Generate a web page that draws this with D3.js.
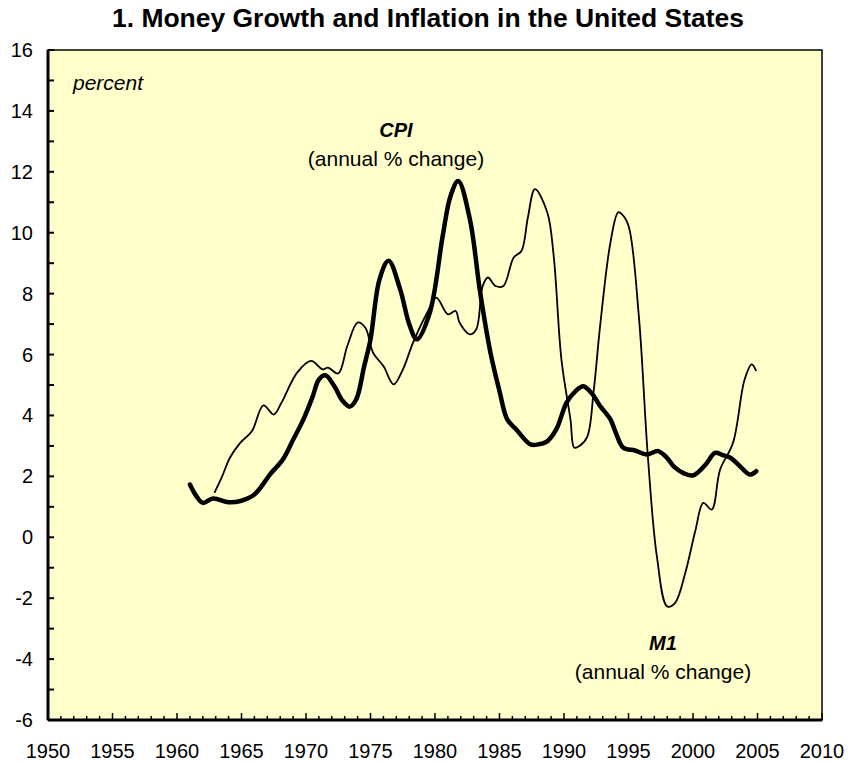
<!DOCTYPE html>
<html>
<head>
<meta charset="utf-8">
<script src="https://cdn.jsdelivr.net/npm/d3@7"></script>
<style>
  body { margin: 0; background: #fff; }
  text { font-family: Arial, "Liberation Sans", sans-serif; fill: #000; }
</style>
</head>
<body>
<svg width="849" height="763"></svg>
<script>
// data (year, annual % change)
const cpiYears = [1961.0, 1961.5, 1962.0, 1962.8, 1964.0, 1965.0, 1965.9, 1966.6, 1967.2, 1968.2,
    1969.0, 1969.8, 1970.5, 1971.0, 1971.5, 1972.2, 1972.8, 1973.4, 1973.9, 1974.5,
    1975.0, 1975.7, 1976.4, 1977.3, 1978.0, 1978.6, 1979.6, 1980.6, 1981.2, 1981.8,
    1982.7, 1983.5, 1984.3, 1985.0, 1985.6, 1986.3, 1987.4, 1988.0, 1988.7, 1989.4,
    1990.2, 1990.9, 1991.5, 1992.2, 1992.8, 1993.6, 1994.0, 1994.6, 1995.5, 1996.4,
    1997.3, 1998.0, 1998.5, 1999.3, 2000.0, 2001.0, 2001.7, 2002.3, 2002.9, 2003.6,
    2004.4, 2004.9];
const cpiValues = [1.73, 1.35, 1.13, 1.27, 1.15, 1.2, 1.37, 1.7, 2.06, 2.55,
    3.2, 3.87, 4.6, 5.18, 5.32, 4.96, 4.5, 4.29, 4.53, 5.6,
    6.5, 8.47, 9.08, 8.14, 7.0, 6.5, 7.38, 9.9, 11.2, 11.7,
    10.45, 8.04, 6.06, 4.8, 3.87, 3.54, 3.05, 3.05, 3.15, 3.54,
    4.42, 4.8, 4.96, 4.7, 4.31, 3.87, 3.45, 2.94, 2.85, 2.72,
    2.83, 2.6, 2.33, 2.1, 2.03, 2.4, 2.77, 2.7, 2.61, 2.35,
    2.06, 2.17];

const m1Years = [1962.9, 1963.5, 1964.1, 1964.9, 1965.8, 1966.7, 1967.5, 1968.1, 1969.3, 1970.4,
    1971.3, 1971.7, 1972.5, 1973.2, 1974.0, 1974.6, 1975.2, 1976.0, 1976.8, 1977.5,
    1978.3, 1979.4, 1980.1, 1981.0, 1981.6, 1981.9, 1982.7, 1983.2, 1983.7, 1984.1,
    1984.7, 1985.3, 1986.1, 1986.7, 1987.2, 1987.75, 1988.7, 1989.2, 1989.8, 1990.5,
    1990.8, 1991.2, 1991.8, 1992.3, 1992.8, 1993.6, 1994.2, 1994.5, 1995.0, 1995.8,
    1996.5, 1997.2, 1998.0, 1998.6, 1999.4, 2000.2, 2000.8, 2001.45, 2002.1, 2003.1,
    2004.0, 2004.55, 2004.9];
const m1Values = [1.46, 2.0, 2.61, 3.1, 3.48, 4.33, 4.03, 4.42, 5.4, 5.79,
    5.51, 5.57, 5.38, 6.28, 7.05, 6.88, 6.06, 5.62, 5.02, 5.5,
    6.39, 7.38, 7.87, 7.32, 7.43, 7.05, 6.66, 6.83, 8.25, 8.53,
    8.25, 8.25, 9.19, 9.4, 10.5, 11.43, 10.67, 9.24, 5.84, 3.87,
    2.94, 3.0, 3.3, 4.8, 6.94, 9.68, 10.67, 10.6, 10.23, 7.27,
    2.66, -0.63, -2.27, -2.16, -1.17, 0.25, 1.13, 0.91, 2.22, 3.1,
    5.18, 5.68, 5.46];

const xTickLabels = d3.range(1950, 2011, 5);
const yTickLabels = d3.range(-6, 17, 2);

const svg = d3.select('svg');
const margin = { top: 50, right: 27, bottom: 43, left: 48 };
const width = 849 - margin.left - margin.right;
const height = 763 - margin.top - margin.bottom;

const x = d3.scaleLinear().domain([1950, 2010]).range([0, width]);
const y = d3.scaleLinear().domain([-6, 16]).range([height, 0]);

// title
svg.append('text')
    .attr('x', 428)
    .attr('y', 27)
    .attr('text-anchor', 'middle')
    .style('font-size', '25px')
    .style('font-weight', 'bold')
    .attr('textLength', 632)
    .attr('lengthAdjust', 'spacingAndGlyphs')
    .text('1. Money Growth and Inflation in the United States');

const g = svg.append('g').attr('transform', `translate(${margin.left},${margin.top})`);

// plot background
g.append('rect')
    .attr('width', width)
    .attr('height', height)
    .style('fill', '#ffffcc')
    .style('stroke', '#000')
    .style('stroke-width', 1.5);

// y ticks (inward), every unit, labels every 2
g.append('g')
    .selectAll('line')
    .data(d3.range(-6, 17, 1))
    .enter()
    .append('line')
    .attr('x1', 0)
    .attr('x2', 6)
    .attr('y1', d => y(d))
    .attr('y2', d => y(d))
    .style('stroke', '#000')
    .style('stroke-width', 2);

g.append('g')
    .selectAll('text')
    .data(yTickLabels)
    .enter()
    .append('text')
    .attr('x', -15)
    .attr('y', d => y(d))
    .attr('dy', '0.35em')
    .attr('text-anchor', 'end')
    .style('font-size', '20px')
    .text(d => d);

// x ticks (inward), yearly minor, 5-year major
g.append('g')
    .selectAll('line')
    .data(d3.range(1950, 2011, 1))
    .enter()
    .append('line')
    .attr('x1', d => x(d))
    .attr('x2', d => x(d))
    .attr('y1', height)
    .attr('y2', d => d % 5 === 0 ? height - 7 : height - 4)
    .style('stroke', '#000')
    .style('stroke-width', 1.5);

g.append('g')
    .selectAll('text')
    .data(xTickLabels)
    .enter()
    .append('text')
    .attr('x', d => x(d))
    .attr('y', height + 38)
    .attr('text-anchor', 'middle')
    .style('font-size', '20px')
    .text(d => d);

// thick left and bottom axis lines
g.append('line')
    .attr('x1', 0).attr('x2', 0).attr('y1', 0).attr('y2', height)
    .style('stroke', '#000').style('stroke-width', 3);
g.append('line')
    .attr('x1', 0).attr('x2', width).attr('y1', height).attr('y2', height)
    .style('stroke', '#000').style('stroke-width', 3);

// series
const line = d3.line()
    .x(d => x(d[0]))
    .y(d => y(d[1]))
    .curve(d3.curveCatmullRom.alpha(0.5));

g.append('path')
    .datum(d3.zip(m1Years, m1Values))
    .attr('d', line)
    .style('fill', 'none')
    .style('stroke', '#000')
    .style('stroke-width', 1.8)
    .style('stroke-linejoin', 'round');

g.append('path')
    .datum(d3.zip(cpiYears, cpiValues))
    .attr('d', line)
    .style('fill', 'none')
    .style('stroke', '#000')
    .style('stroke-width', 4.5)
    .style('stroke-linejoin', 'round')
    .style('stroke-linecap', 'round');

// annotations
svg.append('text')
    .attr('x', 73)
    .attr('y', 90)
    .style('font-size', '21px')
    .style('font-style', 'italic')
    .text('percent');

const notes = [
    { name: 'CPI', cx: 396, y: 137 },
    { name: 'M1', cx: 663, y: 650 }
];
notes.forEach(n => {
    svg.append('text')
        .attr('x', n.cx)
        .attr('y', n.y)
        .attr('text-anchor', 'middle')
        .style('font-size', '20px')
        .style('font-weight', 'bold')
        .style('font-style', 'italic')
        .text(n.name);
    svg.append('text')
        .attr('x', n.cx)
        .attr('y', n.y + 29)
        .attr('text-anchor', 'middle')
        .style('font-size', '21px')
        .text('(annual % change)');
});
</script>
</body>
</html>
